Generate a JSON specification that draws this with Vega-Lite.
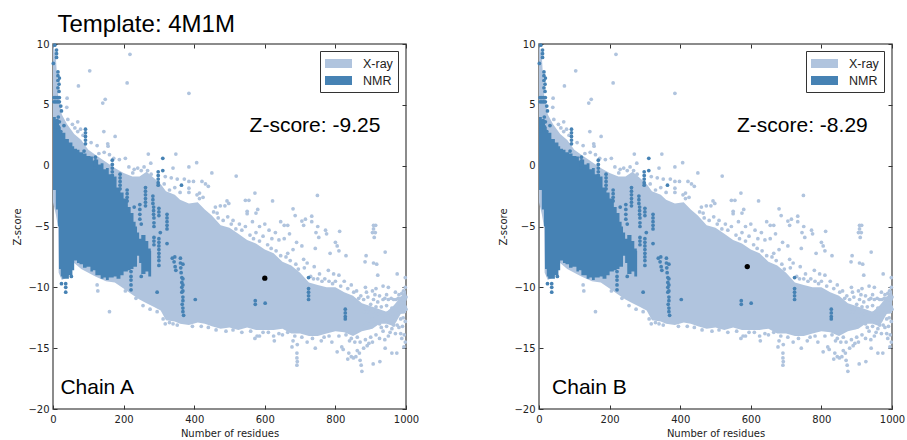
{
"$schema":"https://vega.github.io/schema/vega-lite/v6.json",
"padding":{"left":12,"top":12,"right":0,"bottom":0},
"background":"white",
"spacing":78,
"config":{"view":{"stroke":"#666666","strokeWidth":1.5},
"axis":{"grid":false,"domain":false,"tickColor":"#333333","tickSize":-4,"labelFont":"DejaVu Sans","labelFontSize":10,"labelColor":"#222222","labelPadding":8,"titleFont":"DejaVu Sans","titleFontSize":10,"titleFontWeight":"normal","titleColor":"#222222","labelFlush":false,"labelOverlap":false,"format":"d"},
"text":{"font":"Liberation Sans","color":"black"}},
"datasets":{
"xrayBand":[
{"x":0,"t":10,"b":-3},{"x":8,"t":9,"b":-4},{"x":14,"t":6,"b":-5},{"x":16,"t":5.6,"b":-8.8},{"x":25,"t":4.2,"b":-9.4},{"x":40,"t":3.4,"b":-9.2},{"x":60,"t":2.6,"b":-8},{"x":80,"t":2.1,"b":-8.5},{"x":100,"t":1.3,"b":-8.8},{"x":120,"t":0.9,"b":-9.1},{"x":150,"t":0.3,"b":-9.5},{"x":175,"t":-0.2,"b":-9.6},{"x":200,"t":-0.6,"b":-10.1},{"x":225,"t":-0.9,"b":-10.6},{"x":245,"t":-0.9,"b":-11},{"x":265,"t":-0.5,"b":-11.3},{"x":285,"t":-1,"b":-11.6},{"x":305,"t":-1.5,"b":-11.9},{"x":320,"t":-2.1,"b":-12.7},{"x":345,"t":-2.4,"b":-12.8},{"x":360,"t":-2.8,"b":-13},{"x":385,"t":-3.1,"b":-13.1},{"x":410,"t":-3,"b":-12.9},{"x":430,"t":-3.6,"b":-13},{"x":450,"t":-4.1,"b":-13.2},{"x":475,"t":-4.9,"b":-13.4},{"x":500,"t":-5.1,"b":-13.3},{"x":525,"t":-5.6,"b":-13.5},{"x":550,"t":-6.1,"b":-13.3},{"x":575,"t":-6.4,"b":-13.5},{"x":600,"t":-6.9,"b":-13.5},{"x":625,"t":-7.2,"b":-13.5},{"x":650,"t":-7.9,"b":-13.4},{"x":675,"t":-8.2,"b":-13.8},{"x":700,"t":-8.8,"b":-13.8},{"x":725,"t":-9.6,"b":-14},{"x":750,"t":-9.8,"b":-14},{"x":775,"t":-10,"b":-13.8},{"x":800,"t":-10,"b":-13.6},{"x":825,"t":-10.4,"b":-13.7},{"x":850,"t":-10.7,"b":-14},{"x":875,"t":-11.3,"b":-13.6},{"x":905,"t":-11.6,"b":-13.4},{"x":925,"t":-11.8,"b":-13},{"x":945,"t":-12,"b":-13},{"x":965,"t":-11.5,"b":-13.2},{"x":985,"t":-10.8,"b":-12.2},{"x":1000,"t":-10.2,"b":-12.1}],
"nmrBand":[
{"x":0,"t":4,"b":-2},{"x":8,"t":3.8,"b":-3.6},{"x":14,"t":3.5,"b":-5},{"x":17,"t":3.2,"b":-8.5},{"x":22,"t":2.9,"b":-9.1},{"x":26,"t":2.7,"b":-9.3},{"x":35,"t":2.2,"b":-9.3},{"x":45,"t":1.9,"b":-9},{"x":55,"t":1.6,"b":-8.6},{"x":60,"t":1.4,"b":-7.8},{"x":68,"t":1.3,"b":-8},{"x":75,"t":1.1,"b":-8.1},{"x":85,"t":1,"b":-8.4},{"x":95,"t":0.8,"b":-8.3},{"x":106,"t":0.75,"b":-8.7},{"x":113,"t":0.4,"b":-8.6},{"x":120,"t":0.5,"b":-9},{"x":128,"t":0.1,"b":-9},{"x":135,"t":0.2,"b":-9.3},{"x":143,"t":-0.3,"b":-9.2},{"x":150,"t":-0.2,"b":-9.4},{"x":158,"t":-0.7,"b":-9.2},{"x":172,"t":-0.9,"b":-9.1},{"x":180,"t":-1.8,"b":-9.3},{"x":191,"t":-2.2,"b":-9},{"x":200,"t":-2.7,"b":-8.7},{"x":212,"t":-3.4,"b":-8.6},{"x":220,"t":-3.9,"b":-8.5},{"x":228,"t":-4.6,"b":-8.3},{"x":234,"t":-5,"b":-8.3},{"x":238,"t":-5.5,"b":-7.4},{"x":244,"t":-6,"b":-8},{"x":250,"t":-5.7,"b":-8.9},{"x":262,"t":-6.2,"b":-8.7},{"x":270,"t":-6.8,"b":-9.1},{"x":277,"t":-7,"b":-9.1},{"x":278,"t":-8,"b":-8.5}],
"points":[
{"x":218,"y":9.15,"s":"X-ray"},{"x":104,"y":7.8,"s":"X-ray"},{"x":210,"y":6.8,"s":"X-ray"},{"x":72,"y":6.55,"s":"X-ray"},{"x":385,"y":5.95,"s":"X-ray"},{"x":148,"y":5.45,"s":"X-ray"},{"x":141,"y":5.15,"s":"X-ray"},{"x":40,"y":5.55,"s":"X-ray"},{"x":39,"y":4.8,"s":"X-ray"},{"x":144,"y":2.8,"s":"X-ray"},{"x":176,"y":2.4,"s":"X-ray"},{"x":155,"y":1.8,"s":"X-ray"},{"x":156,"y":1.6,"s":"X-ray"},{"x":125,"y":1.65,"s":"X-ray"},{"x":42,"y":3.8,"s":"X-ray"},{"x":55,"y":3.4,"s":"X-ray"},{"x":70,"y":3.6,"s":"X-ray"},{"x":62,"y":3.1,"s":"X-ray"},{"x":78,"y":3,"s":"X-ray"},{"x":70,"y":2.8,"s":"X-ray"},{"x":85,"y":2.5,"s":"X-ray"},{"x":108,"y":1.9,"s":"X-ray"},{"x":130,"y":1,"s":"X-ray"},{"x":145,"y":1.1,"s":"X-ray"},{"x":160,"y":0.9,"s":"X-ray"},{"x":172,"y":0.6,"s":"X-ray"},{"x":188,"y":0.5,"s":"X-ray"},{"x":205,"y":0.6,"s":"X-ray"},{"x":215,"y":-0.1,"s":"X-ray"},{"x":230,"y":-0.3,"s":"X-ray"},{"x":240,"y":-0.2,"s":"X-ray"},{"x":250,"y":-0.4,"s":"X-ray"},{"x":258,"y":-0.1,"s":"X-ray"},{"x":268,"y":-0.4,"s":"X-ray"},{"x":278,"y":-0.7,"s":"X-ray"},{"x":226,"y":-0.6,"s":"X-ray"},
{"x":270,"y":0.95,"s":"X-ray"},{"x":348,"y":0.95,"s":"X-ray"},{"x":277,"y":0.2,"s":"X-ray"},{"x":407,"y":0.25,"s":"X-ray"},{"x":385,"y":-0.1,"s":"X-ray"},{"x":450,"y":-0.6,"s":"X-ray"},{"x":519,"y":-0.85,"s":"X-ray"},{"x":340,"y":-0.2,"s":"X-ray"},{"x":318,"y":-0.9,"s":"X-ray"},{"x":335,"y":-1,"s":"X-ray"},{"x":352,"y":-1.1,"s":"X-ray"},{"x":372,"y":-1.1,"s":"X-ray"},{"x":385,"y":-1.3,"s":"X-ray"},{"x":398,"y":-1.3,"s":"X-ray"},{"x":422,"y":-1.3,"s":"X-ray"},{"x":432,"y":-1.5,"s":"X-ray"},{"x":440,"y":-1.7,"s":"X-ray"},{"x":385,"y":-1.85,"s":"X-ray"},{"x":385,"y":-2.2,"s":"X-ray"},{"x":415,"y":-2.25,"s":"X-ray"},{"x":408,"y":-2.4,"s":"X-ray"},{"x":425,"y":-2.6,"s":"X-ray"},{"x":415,"y":-2.7,"s":"X-ray"},{"x":360,"y":-2.2,"s":"X-ray"},{"x":345,"y":-1.8,"s":"X-ray"},{"x":330,"y":-2,"s":"X-ray"},{"x":315,"y":-1.5,"s":"X-ray"},
{"x":572,"y":-2.25,"s":"X-ray"},{"x":749,"y":-2.45,"s":"X-ray"},{"x":622,"y":-2.9,"s":"X-ray"},{"x":545,"y":-2.85,"s":"X-ray"},{"x":555,"y":-2.85,"s":"X-ray"},{"x":493,"y":-2.9,"s":"X-ray"},{"x":498,"y":-3.1,"s":"X-ray"},{"x":487,"y":-3.3,"s":"X-ray"},{"x":474,"y":-3.3,"s":"X-ray"},{"x":460,"y":-3.4,"s":"X-ray"},{"x":580,"y":-3.6,"s":"X-ray"},{"x":575,"y":-3.9,"s":"X-ray"},{"x":550,"y":-3.75,"s":"X-ray"},{"x":550,"y":-3.95,"s":"X-ray"},{"x":465,"y":-3.9,"s":"X-ray"},{"x":680,"y":-3.55,"s":"X-ray"},{"x":686,"y":-4.1,"s":"X-ray"},{"x":733,"y":-4.15,"s":"X-ray"},{"x":705,"y":-4.55,"s":"X-ray"},{"x":715,"y":-4.4,"s":"X-ray"},{"x":710,"y":-4.9,"s":"X-ray"},{"x":645,"y":-4.6,"s":"X-ray"},{"x":655,"y":-4.9,"s":"X-ray"},{"x":665,"y":-4.9,"s":"X-ray"},{"x":733,"y":-4.6,"s":"X-ray"},{"x":750,"y":-5,"s":"X-ray"},{"x":908,"y":-4.9,"s":"X-ray"},{"x":914,"y":-4.9,"s":"X-ray"},{"x":908,"y":-5.2,"s":"X-ray"},{"x":905,"y":-5.5,"s":"X-ray"},{"x":910,"y":-5.9,"s":"X-ray"},{"x":913,"y":-5.5,"s":"X-ray"},
{"x":495,"y":-4.2,"s":"X-ray"},{"x":510,"y":-4.5,"s":"X-ray"},{"x":528,"y":-4.8,"s":"X-ray"},{"x":545,"y":-5,"s":"X-ray"},{"x":565,"y":-4.6,"s":"X-ray"},{"x":585,"y":-5,"s":"X-ray"},{"x":600,"y":-4.8,"s":"X-ray"},{"x":612,"y":-5.3,"s":"X-ray"},{"x":630,"y":-5.5,"s":"X-ray"},{"x":575,"y":-5.5,"s":"X-ray"},{"x":595,"y":-5.8,"s":"X-ray"},{"x":620,"y":-6,"s":"X-ray"},{"x":640,"y":-6.1,"s":"X-ray"},{"x":655,"y":-6,"s":"X-ray"},{"x":670,"y":-5.6,"s":"X-ray"},{"x":690,"y":-6.3,"s":"X-ray"},{"x":705,"y":-6.6,"s":"X-ray"},{"x":680,"y":-6.9,"s":"X-ray"},{"x":665,"y":-7.2,"s":"X-ray"},{"x":745,"y":-5.5,"s":"X-ray"},{"x":753,"y":-5.9,"s":"X-ray"},{"x":772,"y":-5.3,"s":"X-ray"},{"x":775,"y":-5.6,"s":"X-ray"},{"x":800,"y":-6.3,"s":"X-ray"},{"x":805,"y":-6.6,"s":"X-ray"},{"x":812,"y":-5.4,"s":"X-ray"},{"x":810,"y":-7,"s":"X-ray"},{"x":743,"y":-6.8,"s":"X-ray"},{"x":785,"y":-7.2,"s":"X-ray"},{"x":830,"y":-7.4,"s":"X-ray"},{"x":710,"y":-7.7,"s":"X-ray"},{"x":720,"y":-8,"s":"X-ray"},{"x":740,"y":-8.3,"s":"X-ray"},{"x":755,"y":-8.9,"s":"X-ray"},{"x":780,"y":-8.6,"s":"X-ray"},{"x":795,"y":-8.9,"s":"X-ray"},{"x":810,"y":-9,"s":"X-ray"},{"x":770,"y":-9.3,"s":"X-ray"},{"x":825,"y":-9.5,"s":"X-ray"},{"x":800,"y":-9.5,"s":"X-ray"},{"x":845,"y":-9.8,"s":"X-ray"},{"x":860,"y":-10.3,"s":"X-ray"},{"x":872,"y":-10.7,"s":"X-ray"},{"x":887,"y":-7.4,"s":"X-ray"},{"x":941,"y":-7.1,"s":"X-ray"},{"x":884,"y":-7.9,"s":"X-ray"},{"x":908,"y":-8,"s":"X-ray"},{"x":917,"y":-8.1,"s":"X-ray"},{"x":920,"y":-9,"s":"X-ray"},{"x":975,"y":-8.9,"s":"X-ray"},{"x":998,"y":-9.2,"s":"X-ray"},
{"x":455,"y":-3.8,"s":"X-ray"},{"x":468,"y":-4.3,"s":"X-ray"},{"x":482,"y":-4.5,"s":"X-ray"},{"x":505,"y":-4.8,"s":"X-ray"},{"x":518,"y":-5.2,"s":"X-ray"},{"x":535,"y":-5.3,"s":"X-ray"},{"x":558,"y":-5.7,"s":"X-ray"},{"x":568,"y":-6,"s":"X-ray"},{"x":585,"y":-6.2,"s":"X-ray"},{"x":608,"y":-6.5,"s":"X-ray"},{"x":618,"y":-6.8,"s":"X-ray"},{"x":632,"y":-7,"s":"X-ray"},{"x":645,"y":-7.4,"s":"X-ray"},{"x":660,"y":-7.5,"s":"X-ray"},{"x":672,"y":-7.8,"s":"X-ray"},{"x":688,"y":-8.1,"s":"X-ray"},{"x":695,"y":-8.5,"s":"X-ray"},{"x":712,"y":-8.4,"s":"X-ray"},{"x":730,"y":-9.1,"s":"X-ray"},{"x":738,"y":-9.3,"s":"X-ray"},{"x":750,"y":-9.3,"s":"X-ray"},{"x":762,"y":-9.5,"s":"X-ray"},{"x":782,"y":-9.5,"s":"X-ray"},{"x":792,"y":-9.7,"s":"X-ray"},{"x":815,"y":-9.9,"s":"X-ray"},{"x":835,"y":-10.1,"s":"X-ray"},{"x":852,"y":-10.4,"s":"X-ray"},{"x":866,"y":-10.9,"s":"X-ray"},
{"x":205,"y":-10.3,"s":"X-ray"},{"x":235,"y":-10.9,"s":"X-ray"},{"x":255,"y":-11.5,"s":"X-ray"},{"x":275,"y":-11.8,"s":"X-ray"},{"x":295,"y":-12,"s":"X-ray"},{"x":312,"y":-12.6,"s":"X-ray"},{"x":318,"y":-13,"s":"X-ray"},{"x":352,"y":-13.1,"s":"X-ray"},{"x":395,"y":-13.2,"s":"X-ray"},{"x":420,"y":-13.2,"s":"X-ray"},{"x":440,"y":-13.3,"s":"X-ray"},{"x":462,"y":-13.5,"s":"X-ray"},{"x":490,"y":-13.6,"s":"X-ray"},{"x":510,"y":-13.5,"s":"X-ray"},{"x":535,"y":-13.7,"s":"X-ray"},{"x":560,"y":-13.6,"s":"X-ray"},{"x":595,"y":-13.7,"s":"X-ray"},{"x":610,"y":-13.7,"s":"X-ray"},{"x":640,"y":-13.8,"s":"X-ray"},{"x":665,"y":-13.7,"s":"X-ray"},{"x":685,"y":-14,"s":"X-ray"},{"x":705,"y":-14.1,"s":"X-ray"},{"x":735,"y":-14.2,"s":"X-ray"},{"x":768,"y":-14.1,"s":"X-ray"},{"x":782,"y":-14,"s":"X-ray"},{"x":810,"y":-14,"s":"X-ray"},{"x":830,"y":-13.9,"s":"X-ray"},{"x":845,"y":-14.2,"s":"X-ray"},{"x":862,"y":-14.1,"s":"X-ray"},
{"x":885,"y":-10,"s":"X-ray"},{"x":888,"y":-10.4,"s":"X-ray"},{"x":892,"y":-10.8,"s":"X-ray"},{"x":905,"y":-10.3,"s":"X-ray"},{"x":915,"y":-10.1,"s":"X-ray"},{"x":912,"y":-10.6,"s":"X-ray"},{"x":925,"y":-10.7,"s":"X-ray"},{"x":935,"y":-9.9,"s":"X-ray"},{"x":950,"y":-10,"s":"X-ray"},{"x":945,"y":-10.6,"s":"X-ray"},{"x":958,"y":-10.9,"s":"X-ray"},{"x":970,"y":-10.4,"s":"X-ray"},{"x":980,"y":-10.6,"s":"X-ray"},{"x":985,"y":-10.9,"s":"X-ray"},{"x":993,"y":-10.3,"s":"X-ray"},{"x":998,"y":-10,"s":"X-ray"},{"x":997,"y":-11,"s":"X-ray"},{"x":990,"y":-11.3,"s":"X-ray"},{"x":998,"y":-11.6,"s":"X-ray"},{"x":993,"y":-12,"s":"X-ray"},{"x":975,"y":-11.5,"s":"X-ray"},{"x":960,"y":-11.7,"s":"X-ray"},{"x":945,"y":-11.5,"s":"X-ray"},{"x":930,"y":-11.6,"s":"X-ray"},{"x":915,"y":-11.6,"s":"X-ray"},{"x":900,"y":-11.4,"s":"X-ray"},{"x":920,"y":-12.2,"s":"X-ray"},{"x":940,"y":-12.5,"s":"X-ray"},{"x":955,"y":-12.3,"s":"X-ray"},{"x":968,"y":-12.7,"s":"X-ray"},{"x":985,"y":-12.6,"s":"X-ray"},{"x":998,"y":-12.8,"s":"X-ray"},{"x":910,"y":-13,"s":"X-ray"},{"x":925,"y":-13,"s":"X-ray"},{"x":945,"y":-13.2,"s":"X-ray"},{"x":960,"y":-13.4,"s":"X-ray"},{"x":975,"y":-13.1,"s":"X-ray"},{"x":980,"y":-13.3,"s":"X-ray"},{"x":955,"y":-13.7,"s":"X-ray"},{"x":935,"y":-13.6,"s":"X-ray"},{"x":915,"y":-13.9,"s":"X-ray"},{"x":900,"y":-14.1,"s":"X-ray"},{"x":885,"y":-14.3,"s":"X-ray"},{"x":995,"y":-13.9,"s":"X-ray"},{"x":988,"y":-14.2,"s":"X-ray"},{"x":998,"y":-14.5,"s":"X-ray"},{"x":940,"y":-14.3,"s":"X-ray"},{"x":941,"y":-15,"s":"X-ray"},{"x":974,"y":-15.4,"s":"X-ray"},{"x":960,"y":-15.4,"s":"X-ray"},{"x":994,"y":-14.9,"s":"X-ray"},{"x":907,"y":-16.3,"s":"X-ray"},{"x":926,"y":-16.1,"s":"X-ray"},
{"x":880,"y":-11,"s":"X-ray"},{"x":880,"y":-12,"s":"X-ray"},{"x":890,"y":-12,"s":"X-ray"},{"x":895,"y":-11.8,"s":"X-ray"},{"x":905,"y":-12,"s":"X-ray"},{"x":908,"y":-11,"s":"X-ray"},{"x":920,"y":-11.2,"s":"X-ray"},{"x":935,"y":-11,"s":"X-ray"},{"x":940,"y":-10.9,"s":"X-ray"},{"x":950,"y":-11,"s":"X-ray"},{"x":965,"y":-11,"s":"X-ray"},{"x":972,"y":-11,"s":"X-ray"},{"x":978,"y":-10.9,"s":"X-ray"},{"x":988,"y":-10.5,"s":"X-ray"},{"x":992,"y":-11,"s":"X-ray"},{"x":996,"y":-10.6,"s":"X-ray"},{"x":1000,"y":-10.8,"s":"X-ray"},{"x":1000,"y":-11.8,"s":"X-ray"},{"x":992,"y":-12.5,"s":"X-ray"},{"x":978,"y":-12.1,"s":"X-ray"},{"x":962,"y":-12.2,"s":"X-ray"},{"x":948,"y":-12.1,"s":"X-ray"},{"x":932,"y":-12.1,"s":"X-ray"},{"x":905,"y":-12.6,"s":"X-ray"},{"x":890,"y":-12.9,"s":"X-ray"},{"x":880,"y":-13.2,"s":"X-ray"},{"x":895,"y":-13.3,"s":"X-ray"},{"x":930,"y":-13.3,"s":"X-ray"},{"x":965,"y":-13.1,"s":"X-ray"},{"x":990,"y":-13.2,"s":"X-ray"},{"x":970,"y":-13.8,"s":"X-ray"},{"x":985,"y":-13.8,"s":"X-ray"},{"x":950,"y":-14,"s":"X-ray"},{"x":925,"y":-14.2,"s":"X-ray"},{"x":905,"y":-14.5,"s":"X-ray"},{"x":890,"y":-14.8,"s":"X-ray"},{"x":880,"y":-15,"s":"X-ray"},{"x":895,"y":-14.6,"s":"X-ray"},
{"x":160,"y":-12,"s":"X-ray"},{"x":125,"y":-9.8,"s":"X-ray"},{"x":127,"y":-10.3,"s":"X-ray"},{"x":330,"y":-12.9,"s":"X-ray"},{"x":340,"y":-13,"s":"X-ray"},{"x":578,"y":-14,"s":"X-ray"},{"x":572,"y":-14.2,"s":"X-ray"},{"x":585,"y":-14,"s":"X-ray"},{"x":625,"y":-14,"s":"X-ray"},{"x":627,"y":-14.4,"s":"X-ray"},{"x":650,"y":-13.9,"s":"X-ray"},{"x":677,"y":-14.9,"s":"X-ray"},{"x":680,"y":-14.4,"s":"X-ray"},{"x":692,"y":-14.7,"s":"X-ray"},{"x":691,"y":-15.4,"s":"X-ray"},{"x":691,"y":-15.8,"s":"X-ray"},{"x":692,"y":-16.1,"s":"X-ray"},{"x":691,"y":-16.4,"s":"X-ray"},{"x":720,"y":-14.5,"s":"X-ray"},{"x":743,"y":-15,"s":"X-ray"},{"x":760,"y":-14.4,"s":"X-ray"},{"x":790,"y":-14.5,"s":"X-ray"},{"x":805,"y":-15.3,"s":"X-ray"},{"x":818,"y":-14.9,"s":"X-ray"},{"x":822,"y":-15.1,"s":"X-ray"},{"x":838,"y":-15.4,"s":"X-ray"},{"x":835,"y":-15.9,"s":"X-ray"},{"x":845,"y":-15.7,"s":"X-ray"},{"x":851,"y":-15.8,"s":"X-ray"},{"x":858,"y":-15.7,"s":"X-ray"},{"x":862,"y":-15.2,"s":"X-ray"},{"x":870,"y":-16,"s":"X-ray"},{"x":875,"y":-16.9,"s":"X-ray"},{"x":873,"y":-16.4,"s":"X-ray"},{"x":868,"y":-15.4,"s":"X-ray"},{"x":855,"y":-14.5,"s":"X-ray"},{"x":870,"y":-14.5,"s":"X-ray"},{"x":840,"y":-14.4,"s":"X-ray"},
{"x":10,"y":9.5,"s":"NMR"},{"x":10,"y":9.2,"s":"NMR"},{"x":10,"y":8.9,"s":"NMR"},{"x":5,"y":9.9,"s":"NMR"},{"x":1,"y":8.4,"s":"NMR"},{"x":14,"y":7.7,"s":"NMR"},{"x":14,"y":7.4,"s":"NMR"},{"x":18,"y":7.2,"s":"NMR"},{"x":14,"y":7,"s":"NMR"},{"x":17,"y":6.7,"s":"NMR"},{"x":14,"y":6.4,"s":"NMR"},{"x":17,"y":6.1,"s":"NMR"},{"x":3,"y":5.6,"s":"NMR"},{"x":8,"y":5.6,"s":"NMR"},{"x":13,"y":5.6,"s":"NMR"},{"x":18,"y":5.6,"s":"NMR"},{"x":3,"y":5.25,"s":"NMR"},{"x":8,"y":5.25,"s":"NMR"},{"x":13,"y":5.25,"s":"NMR"},{"x":18,"y":5.25,"s":"NMR"},{"x":22,"y":4.9,"s":"NMR"},{"x":24,"y":4.5,"s":"NMR"},{"x":15,"y":4,"s":"NMR"},{"x":12,"y":3.7,"s":"NMR"},{"x":18,"y":3.6,"s":"NMR"},{"x":8,"y":3.3,"s":"NMR"},{"x":15,"y":3.2,"s":"NMR"},{"x":31,"y":3.3,"s":"NMR"},{"x":22,"y":2.8,"s":"NMR"},{"x":6,"y":2.9,"s":"NMR"},
{"x":92,"y":3,"s":"NMR"},{"x":92,"y":2.7,"s":"NMR"},{"x":92,"y":2.4,"s":"NMR"},{"x":92,"y":2.1,"s":"NMR"},{"x":92,"y":1.8,"s":"NMR"},{"x":88,"y":1.2,"s":"NMR"},{"x":120,"y":0.7,"s":"NMR"},{"x":120,"y":0.4,"s":"NMR"},{"x":120,"y":0.1,"s":"NMR"},{"x":120,"y":-0.2,"s":"NMR"},{"x":168,"y":0.45,"s":"NMR"},{"x":168,"y":0.1,"s":"NMR"},{"x":168,"y":-0.2,"s":"NMR"},{"x":168,"y":-0.5,"s":"NMR"},{"x":168,"y":-0.8,"s":"NMR"},{"x":190,"y":-0.7,"s":"NMR"},{"x":190,"y":-1,"s":"NMR"},{"x":190,"y":-1.3,"s":"NMR"},{"x":190,"y":-1.6,"s":"NMR"},{"x":190,"y":-1.9,"s":"NMR"},{"x":210,"y":-2,"s":"NMR"},{"x":210,"y":-2.3,"s":"NMR"},{"x":210,"y":-2.6,"s":"NMR"},{"x":210,"y":-2.9,"s":"NMR"},{"x":262,"y":-1.8,"s":"NMR"},{"x":262,"y":-2.1,"s":"NMR"},{"x":262,"y":-2.4,"s":"NMR"},{"x":262,"y":-2.7,"s":"NMR"},{"x":262,"y":-3,"s":"NMR"},{"x":262,"y":-3.3,"s":"NMR"},{"x":298,"y":-0.5,"s":"NMR"},{"x":298,"y":-0.8,"s":"NMR"},{"x":298,"y":-1.1,"s":"NMR"},{"x":298,"y":-1.4,"s":"NMR"},{"x":298,"y":-1.6,"s":"NMR"},{"x":311,"y":0.6,"s":"NMR"},{"x":311,"y":-0.4,"s":"NMR"},{"x":364,"y":-1.6,"s":"NMR"},
{"x":283,"y":-2.5,"s":"NMR"},{"x":283,"y":-2.8,"s":"NMR"},{"x":283,"y":-3.1,"s":"NMR"},{"x":285,"y":-3.4,"s":"NMR"},{"x":285,"y":-3.7,"s":"NMR"},{"x":285,"y":-4,"s":"NMR"},{"x":286,"y":-4.3,"s":"NMR"},{"x":286,"y":-4.7,"s":"NMR"},{"x":286,"y":-5,"s":"NMR"},{"x":300,"y":-3.5,"s":"NMR"},{"x":300,"y":-3.8,"s":"NMR"},{"x":300,"y":-4.1,"s":"NMR"},{"x":323,"y":-4,"s":"NMR"},{"x":323,"y":-4.3,"s":"NMR"},{"x":323,"y":-4.6,"s":"NMR"},{"x":323,"y":-4.9,"s":"NMR"},{"x":323,"y":-5.2,"s":"NMR"},{"x":246,"y":-3.2,"s":"NMR"},{"x":246,"y":-3.6,"s":"NMR"},{"x":246,"y":-4,"s":"NMR"},{"x":246,"y":-4.4,"s":"NMR"},{"x":230,"y":-3.4,"s":"NMR"},{"x":250,"y":-4.8,"s":"NMR"},{"x":286,"y":-5.9,"s":"NMR"},{"x":286,"y":-6.2,"s":"NMR"},{"x":286,"y":-6.5,"s":"NMR"},{"x":300,"y":-6,"s":"NMR"},{"x":300,"y":-6.3,"s":"NMR"},{"x":300,"y":-6.6,"s":"NMR"},{"x":300,"y":-6.9,"s":"NMR"},{"x":300,"y":-7.2,"s":"NMR"},{"x":300,"y":-7.5,"s":"NMR"},{"x":300,"y":-7.8,"s":"NMR"},{"x":300,"y":-8.2,"s":"NMR"},{"x":323,"y":-6.4,"s":"NMR"},{"x":304,"y":-5.5,"s":"NMR"},{"x":338,"y":-7.6,"s":"NMR"},{"x":343,"y":-7.9,"s":"NMR"},{"x":346,"y":-8.3,"s":"NMR"},{"x":348,"y":-8.6,"s":"NMR"},{"x":345,"y":-7.5,"s":"NMR"},
{"x":361,"y":-7.6,"s":"NMR"},{"x":361,"y":-8,"s":"NMR"},{"x":362,"y":-8.4,"s":"NMR"},{"x":363,"y":-8.8,"s":"NMR"},{"x":365,"y":-9.2,"s":"NMR"},{"x":368,"y":-8.1,"s":"NMR"},{"x":365,"y":-9.6,"s":"NMR"},{"x":368,"y":-9.3,"s":"NMR"},{"x":365,"y":-10,"s":"NMR"},{"x":368,"y":-9.8,"s":"NMR"},{"x":365,"y":-10.4,"s":"NMR"},{"x":368,"y":-10.3,"s":"NMR"},{"x":368,"y":-10.8,"s":"NMR"},{"x":368,"y":-11.1,"s":"NMR"},{"x":366,"y":-11.4,"s":"NMR"},{"x":368,"y":-11.7,"s":"NMR"},{"x":368,"y":-12,"s":"NMR"},{"x":370,"y":-12.3,"s":"NMR"},{"x":403,"y":-11,"s":"NMR"},{"x":295,"y":-10.4,"s":"NMR"},{"x":221,"y":-8.7,"s":"NMR"},{"x":221,"y":-9.1,"s":"NMR"},{"x":221,"y":-9.4,"s":"NMR"},{"x":221,"y":-9.8,"s":"NMR"},{"x":221,"y":-10.2,"s":"NMR"},{"x":36,"y":-9.7,"s":"NMR"},{"x":36,"y":-10,"s":"NMR"},{"x":36,"y":-10.4,"s":"NMR"},{"x":24,"y":-9.7,"s":"NMR"},{"x":52,"y":-9.1,"s":"NMR"},{"x":250,"y":-9.1,"s":"NMR"},{"x":573,"y":-11.1,"s":"NMR"},{"x":573,"y":-11.4,"s":"NMR"},{"x":601,"y":-11.3,"s":"NMR"},{"x":724,"y":-9.2,"s":"NMR"},{"x":724,"y":-10.1,"s":"NMR"},{"x":724,"y":-10.4,"s":"NMR"},{"x":724,"y":-10.7,"s":"NMR"},{"x":724,"y":-11,"s":"NMR"},{"x":828,"y":-11.8,"s":"NMR"},{"x":828,"y":-12.1,"s":"NMR"},{"x":828,"y":-12.4,"s":"NMR"},{"x":828,"y":-12.6,"s":"NMR"}]
},
"hconcat":[
{"width":353,"height":365,
"title":{"text":"Template: 4M1M","anchor":"start","frame":"group","dx":4.5,"offset":2,"font":"Liberation Sans","fontSize":24,"fontWeight":"normal","color":"black"},
"resolve":{"axis":{"x":"independent","y":"independent"}},
"layer":[
{"data":{"name":"xrayBand"},"mark":{"type":"area","color":"#B0C4DE"},"encoding":{"x":{"field":"x","type":"quantitative","scale":{"domain":[0,1000],"nice":false},"axis":{"orient":"bottom","values":[0,200,400,600,800,1000],"title":"Number of residues","titlePadding":4,"labelPadding":9}},"y":{"field":"t","type":"quantitative","scale":{"domain":[-20,10],"nice":false},"axis":{"orient":"left","values":[-20,-15,-10,-5,0,5,10],"title":"Z-score","titlePadding":5}},"y2":{"field":"b"}}},
{"data":{"name":"nmrBand"},"mark":{"type":"area","color":"#4682B4","interpolate":"step-after"},"encoding":{"x":{"field":"x","type":"quantitative","axis":null},"y":{"field":"t","type":"quantitative","axis":null},"y2":{"field":"b"}}},
{"data":{"name":"points"},"mark":{"type":"circle","size":14,"opacity":1},"encoding":{"x":{"field":"x","type":"quantitative","axis":null},"y":{"field":"y","type":"quantitative","axis":null},"order":{"field":"s","sort":"descending"},"color":{"field":"s","type":"nominal","scale":{"domain":["X-ray","NMR"],"range":["#B0C4DE","#4682B4"]},"legend":{"title":null,"orient":"none","legendX":267,"legendY":7,"symbolType":"M-1,-0.6H2.6V0.6H-1Z","symbolSize":225,"symbolOpacity":1,"labelFont":"Liberation Sans","labelFontSize":12.5,"labelColor":"#222222","strokeColor":"#333333","fillColor":"white","padding":5,"labelOffset":23,"rowPadding":3,"symbolStrokeWidth":0}}}},
{"data":{"values":[{"x":600,"y":-9.25}]},"mark":{"type":"circle","size":28,"color":"black","opacity":1},"encoding":{"x":{"field":"x","type":"quantitative","axis":{"orient":"top","labels":false,"title":null,"values":[0,200,400,600,800,1000]}},"y":{"field":"y","type":"quantitative","axis":{"orient":"right","labels":false,"title":null,"values":[-20,-15,-10,-5,0,5,10]}}}},
{"data":{"values":[{"x":557,"y":2.77,"t":"Z-score: -9.25"},{"x":21,"y":-18.76,"t":"Chain A"}]},"mark":{"type":"text","align":"left","baseline":"alphabetic","fontSize":21},"encoding":{"x":{"field":"x","type":"quantitative","axis":null},"y":{"field":"y","type":"quantitative","axis":null},"text":{"field":"t"}}}
]},
{"width":353,"height":365,
"resolve":{"axis":{"x":"independent","y":"independent"}},
"layer":[
{"data":{"name":"xrayBand"},"mark":{"type":"area","color":"#B0C4DE"},"encoding":{"x":{"field":"x","type":"quantitative","scale":{"domain":[0,1000],"nice":false},"axis":{"orient":"bottom","values":[0,200,400,600,800,1000],"title":"Number of residues","titlePadding":4,"labelPadding":9}},"y":{"field":"t","type":"quantitative","scale":{"domain":[-20,10],"nice":false},"axis":{"orient":"left","values":[-20,-15,-10,-5,0,5,10],"title":"Z-score","titlePadding":5}},"y2":{"field":"b"}}},
{"data":{"name":"nmrBand"},"mark":{"type":"area","color":"#4682B4","interpolate":"step-after"},"encoding":{"x":{"field":"x","type":"quantitative","axis":null},"y":{"field":"t","type":"quantitative","axis":null},"y2":{"field":"b"}}},
{"data":{"name":"points"},"mark":{"type":"circle","size":14,"opacity":1},"encoding":{"x":{"field":"x","type":"quantitative","axis":null},"y":{"field":"y","type":"quantitative","axis":null},"order":{"field":"s","sort":"descending"},"color":{"field":"s","type":"nominal","scale":{"domain":["X-ray","NMR"],"range":["#B0C4DE","#4682B4"]},"legend":{"title":null,"orient":"none","legendX":267,"legendY":7,"symbolType":"M-1,-0.6H2.6V0.6H-1Z","symbolSize":225,"symbolOpacity":1,"labelFont":"Liberation Sans","labelFontSize":12.5,"labelColor":"#222222","strokeColor":"#333333","fillColor":"white","padding":5,"labelOffset":23,"rowPadding":3,"symbolStrokeWidth":0}}}},
{"data":{"values":[{"x":590,"y":-8.29}]},"mark":{"type":"circle","size":28,"color":"black","opacity":1},"encoding":{"x":{"field":"x","type":"quantitative","axis":{"orient":"top","labels":false,"title":null,"values":[0,200,400,600,800,1000]}},"y":{"field":"y","type":"quantitative","axis":{"orient":"right","labels":false,"title":null,"values":[-20,-15,-10,-5,0,5,10]}}}},
{"data":{"values":[{"x":561,"y":2.77,"t":"Z-score: -8.29"},{"x":37,"y":-18.76,"t":"Chain B"}]},"mark":{"type":"text","align":"left","baseline":"alphabetic","fontSize":21},"encoding":{"x":{"field":"x","type":"quantitative","axis":null},"y":{"field":"y","type":"quantitative","axis":null},"text":{"field":"t"}}}
]}
],
"resolve":{"legend":{"color":"independent"}}
}
